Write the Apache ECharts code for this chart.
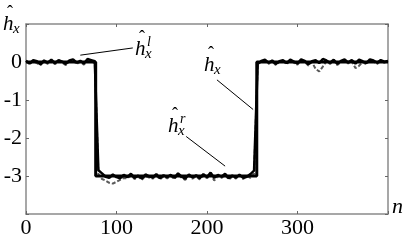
<!DOCTYPE html>
<html>
<head>
<meta charset="utf-8">
<script src="https://cdn.jsdelivr.net/npm/echarts@6.0.0/dist/echarts.min.js"></script>
<style>
  html, body { margin: 0; padding: 0; background: #fff; }
  #chart { width: 408px; height: 247px; }
</style>
</head>
<body>
<div id="chart"></div>
<script>
// sample index n (every 4th sample)
var nIdx = [0,4,8,12,16,20,24,28,32,36,40,44,48,52,56,60,64,68,72,76,
  80,84,88,92,96,100,104,108,112,116,120,124,128,132,136,140,144,148,152,156,
  160,164,168,172,176,180,184,188,192,196,200,204,208,212,216,220,224,228,232,236,
  240,244,248,252,256,260,264,268,272,276,280,284,288,292,296,300,304,308,312,316,
  320,324,328,332,336,340,344,348,352,356,360,364,368,372,376,380,384,388,392,396,400];

// estimate h_x^l (black, noisy)
var hL = [0.03,-0.04,0.05,0.02,-0.06,0.04,-0.02,0.06,-0.03,0.05,
  0.01,-0.05,0.04,0.07,-0.02,0.03,-0.04,0.08,0.05,0.02,
  -2.85,-2.93,-3.02,-3.05,-2.96,-3.03,-3.06,-2.97,-3.03,-2.94,
  -3.05,-2.99,-3.07,-2.96,-3.01,-3.04,-2.95,-3.06,-2.98,-3.03,
  -2.97,-3.05,-2.93,-3.02,-3.07,-2.96,-3.04,-2.98,-3.06,-2.95,
  -3.03,-2.91,-3.05,-2.97,-3.02,-2.94,-3.06,-2.99,-3.04,-2.97,
  -3.05,-3.02,-2.95,-2.86,
  -0.05,0.03,0.06,-0.02,0.04,-0.05,0.02,0.05,-0.03,0.06,
  0.01,-0.04,0.07,0.03,-0.06,0.02,0.05,-0.03,0.08,0.04,
  -0.02,0.06,-0.05,0.03,0.07,-0.01,0.05,-0.04,0.06,0.02,
  -0.03,0.07,0.04,-0.02,0.05,0.01,0.03];

// estimate h_x^r (grey dashed)
var hR = [0.02,-0.06,0.03,-0.03,-0.08,0.02,-0.05,0.04,-0.06,0.03,
  -0.02,-0.08,0.02,0.04,-0.05,0.01,-0.07,0.05,0.02,-0.03,
  -2.95,-3.08,-3.12,-3.18,-3.2,-3.15,-3.1,-3.05,-3.06,-2.98,
  -3.08,-3.02,-3.1,-3.0,-3.04,-3.07,-2.98,-3.09,-3.01,-3.06,
  -3.0,-3.08,-2.96,-3.05,-3.1,-2.99,-3.07,-3.01,-3.09,-2.98,
  -3.06,-2.95,-3.12,-3.0,-3.05,-2.97,-3.09,-3.02,-3.07,-2.96,
  -3.08,-3.0,-3.05,-2.94,
  -0.08,0.02,0.04,-0.05,0.02,-0.08,0.0,0.03,-0.06,0.04,
  -0.02,-0.07,0.05,0.0,-0.09,0.0,-0.18,-0.25,-0.12,0.02,
  -0.05,0.04,-0.08,0.0,0.05,-0.04,0.02,-0.16,-0.1,0.0,
  -0.06,0.05,0.01,-0.05,0.03,-0.02,0.0];

// true channel h_x (step)
var trueN = [0, 77, 77, 255, 255, 400];
var trueV = [0, 0, -3, -3, 0, 0];

var xTicks = [0, 100, 200, 300];
var yTicks = [0, -1, -2, -3];

// annotation pointers, in data coordinates
var arrowL = [[60, 0.18], [118, 0.37]];
var arrowX = [[211, -0.47], [251, -1.25]];
var arrowR = [[177, -1.96], [220, -2.74]];

function pairs(xs, ys) {
  return xs.map(function (x, i) { return [x, ys[i]]; });
}

var serif = '"Liberation Serif", "Times New Roman", serif';

function xAxisCfg(pos) {
  return {
    type: 'value', position: pos, min: 0, max: 400, interval: 100,
    axisLine: { show: true, onZero: false, lineStyle: { color: '#8a8a8a', width: 1.5 } },
    axisTick: { show: true, inside: true, length: 3, lineStyle: { color: '#666' } },
    axisLabel: {
      show: pos === 'bottom', margin: 3, color: '#000', fontFamily: serif, fontSize: 22,
      formatter: function (v) { return xTicks.indexOf(v) > -1 ? String(v) : ''; }
    },
    splitLine: { show: false }
  };
}
function yAxisCfg(pos) {
  return {
    type: 'value', position: pos, min: -4, max: 1, interval: 1,
    axisLine: { show: true, onZero: false, lineStyle: { color: '#8a8a8a', width: 1.5 } },
    axisTick: { show: true, inside: true, length: 3, lineStyle: { color: '#666' } },
    axisLabel: {
      show: pos === 'left', margin: 4, color: '#000', fontFamily: serif, fontSize: 22,
      formatter: function (v) { return yTicks.indexOf(v) > -1 ? String(v) : ''; }
    },
    splitLine: { show: false }
  };
}

// hatted symbol label: h with ^ above, subscript x, optional superscript
function hatLabel(x, y, sup) {
  var kids = [
    { type: 'text', x: 4, y: -10, style: { text: 'ˆ', font: '18px ' + serif, fill: '#000' } },
    { type: 'text', x: 0, y: 0, style: { text: 'h', font: 'italic 21px ' + serif, fill: '#000' } },
    { type: 'text', x: 10, y: 8, style: { text: 'x', font: 'italic 15px ' + serif, fill: '#000' } }
  ];
  if (sup) {
    kids.push({ type: 'text', x: 12, y: -4, style: { text: sup, font: 'italic 14px ' + serif, fill: '#000' } });
  }
  return { type: 'group', x: x, y: y, children: kids };
}

var chart = echarts.init(document.getElementById('chart'), null, { renderer: 'canvas' });
chart.setOption({
  animation: false,
  backgroundColor: '#fff',
  textStyle: { fontFamily: serif },
  grid: { left: 26, right: 20, top: 24, bottom: 33, containLabel: false },
  xAxis: [xAxisCfg('bottom'), xAxisCfg('top')],
  yAxis: [yAxisCfg('left'), yAxisCfg('right')],
  series: [
    {
      name: 'hR', type: 'line', data: pairs(nIdx, hR), showSymbol: false,
      lineStyle: { color: '#5a5a5a', width: 2, type: [4, 2] }
    },
    {
      name: 'hL', type: 'line', data: pairs(nIdx, hL), showSymbol: false,
      lineStyle: { color: '#000', width: 2.5 }
    },
    {
      name: 'hx', type: 'line', data: pairs(trueN, trueV), showSymbol: false,
      lineStyle: { color: '#000', width: 3 },
      markLine: {
        silent: true, symbol: 'none', animation: false,
        label: { show: false },
        lineStyle: { color: '#000', width: 1, type: 'solid' },
        data: [
          [{ coord: arrowL[0] }, { coord: arrowL[1] }],
          [{ coord: arrowX[0] }, { coord: arrowX[1] }],
          [{ coord: arrowR[0] }, { coord: arrowR[1] }]
        ]
      }
    }
  ],
  graphic: [
    hatLabel(3, 14, null),
    hatLabel(135, 39, 'l'),
    hatLabel(204, 55, null),
    hatLabel(168, 116, 'r'),
    { type: 'text', x: 392, y: 196, style: { text: 'n', font: 'italic 22px ' + serif, fill: '#000' } }
  ]
});
</script>
</body>
</html>
